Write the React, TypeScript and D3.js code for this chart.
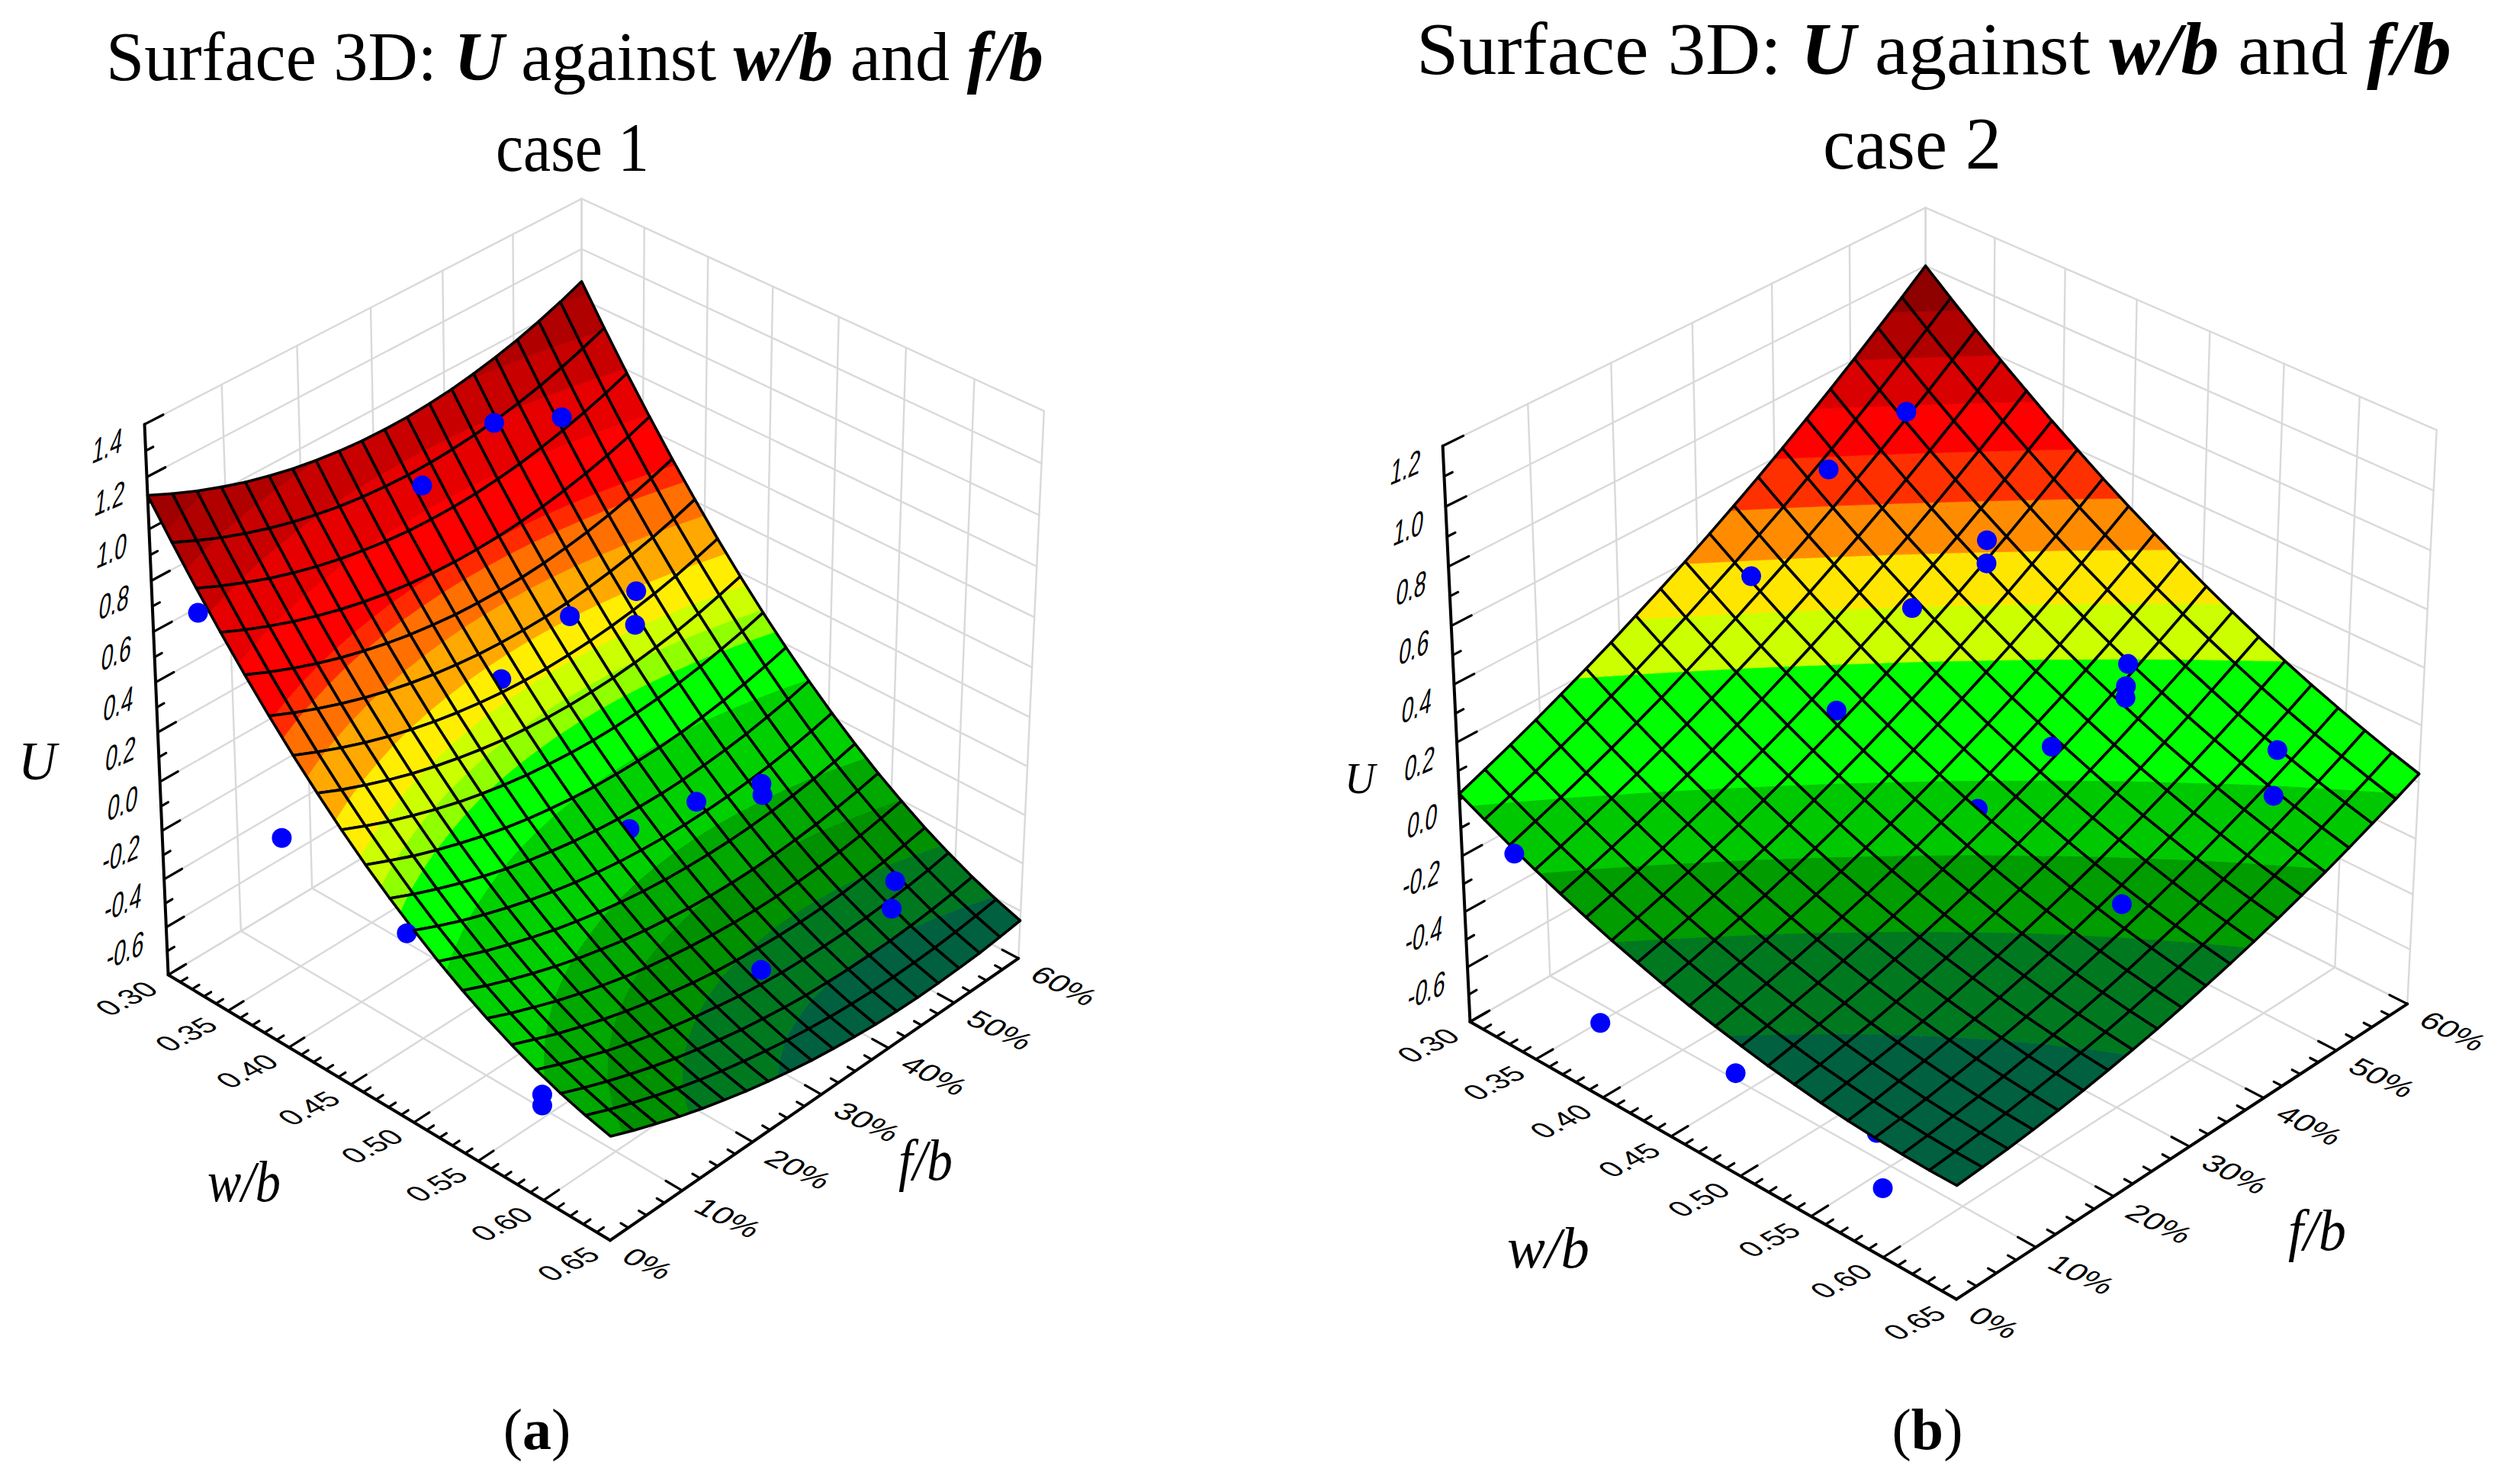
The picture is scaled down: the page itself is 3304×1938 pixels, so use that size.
import React, { useEffect, useRef } from 'react';
import * as d3 from 'd3';

const wTicks = [0.3, 0.35, 0.4, 0.45, 0.5, 0.55, 0.6, 0.65];
const fTicks = [0, 10, 20, 30, 40, 50, 60];
const uTicksA = [1.4, 1.2, 1.0, 0.8, 0.6, 0.4, 0.2, 0.0, -0.2, -0.4, -0.6, -0.8];
const uTicksB = [1.2, 1.0, 0.8, 0.6, 0.4, 0.2, 0.0, -0.2, -0.4, -0.6, -0.8];

// U on the mesh nodes. Rows go from w/b 0.30 to 0.65,
// columns from f/b 0% to 60%, 19 mesh cells each way.
const surfaceA = [
  [1.130, 1.087, 1.048, 1.014, 0.984, 0.959, 0.938, 0.922, 0.910, 0.902, 0.899, 0.900, 0.906, 0.916, 0.931, 0.950, 0.973, 1.001, 1.033, 1.070],
  [0.996, 0.953, 0.914, 0.880, 0.850, 0.825, 0.804, 0.787, 0.775, 0.767, 0.763, 0.764, 0.769, 0.778, 0.792, 0.810, 0.832, 0.859, 0.890, 0.925],
  [0.867, 0.825, 0.787, 0.752, 0.723, 0.697, 0.676, 0.659, 0.646, 0.637, 0.633, 0.633, 0.637, 0.646, 0.659, 0.676, 0.697, 0.723, 0.752, 0.786],
  [0.745, 0.703, 0.665, 0.631, 0.601, 0.575, 0.554, 0.536, 0.523, 0.514, 0.509, 0.509, 0.512, 0.520, 0.532, 0.548, 0.568, 0.592, 0.621, 0.654],
  [0.629, 0.587, 0.549, 0.515, 0.485, 0.460, 0.438, 0.420, 0.407, 0.397, 0.392, 0.391, 0.393, 0.400, 0.411, 0.426, 0.445, 0.469, 0.496, 0.527],
  [0.519, 0.477, 0.440, 0.406, 0.376, 0.350, 0.328, 0.310, 0.296, 0.286, 0.280, 0.278, 0.280, 0.286, 0.297, 0.311, 0.329, 0.351, 0.377, 0.407],
  [0.415, 0.374, 0.336, 0.302, 0.272, 0.246, 0.224, 0.206, 0.192, 0.181, 0.175, 0.172, 0.174, 0.179, 0.188, 0.201, 0.218, 0.239, 0.264, 0.292],
  [0.318, 0.276, 0.239, 0.205, 0.175, 0.149, 0.127, 0.108, 0.093, 0.083, 0.075, 0.072, 0.073, 0.077, 0.086, 0.098, 0.113, 0.133, 0.157, 0.184],
  [0.226, 0.185, 0.147, 0.114, 0.084, 0.057, 0.035, 0.016, 0.001, -0.010, -0.018, -0.022, -0.022, -0.018, -0.011, 0.000, 0.015, 0.034, 0.056, 0.082],
  [0.140, 0.100, 0.062, 0.029, -0.001, -0.028, -0.051, -0.070, -0.085, -0.097, -0.105, -0.109, -0.110, -0.108, -0.101, -0.091, -0.077, -0.060, -0.039, -0.014],
  [0.061, 0.020, -0.017, -0.050, -0.080, -0.107, -0.130, -0.149, -0.165, -0.177, -0.186, -0.191, -0.193, -0.191, -0.185, -0.176, -0.164, -0.147, -0.128, -0.104],
  [-0.012, -0.053, -0.090, -0.123, -0.153, -0.180, -0.203, -0.223, -0.239, -0.252, -0.261, -0.267, -0.269, -0.268, -0.263, -0.255, -0.244, -0.229, -0.210, -0.188],
  [-0.080, -0.120, -0.157, -0.190, -0.220, -0.247, -0.270, -0.290, -0.307, -0.320, -0.330, -0.336, -0.339, -0.339, -0.335, -0.328, -0.318, -0.304, -0.287, -0.266],
  [-0.141, -0.181, -0.218, -0.251, -0.281, -0.308, -0.331, -0.352, -0.369, -0.382, -0.393, -0.400, -0.404, -0.404, -0.401, -0.395, -0.386, -0.373, -0.357, -0.338],
  [-0.196, -0.236, -0.272, -0.306, -0.336, -0.363, -0.387, -0.407, -0.424, -0.438, -0.449, -0.457, -0.462, -0.463, -0.461, -0.456, -0.448, -0.436, -0.421, -0.403],
  [-0.245, -0.284, -0.321, -0.354, -0.384, -0.411, -0.435, -0.456, -0.474, -0.489, -0.500, -0.508, -0.514, -0.516, -0.515, -0.511, -0.503, -0.493, -0.479, -0.463],
  [-0.288, -0.327, -0.363, -0.397, -0.427, -0.454, -0.478, -0.499, -0.517, -0.533, -0.545, -0.554, -0.559, -0.562, -0.562, -0.559, -0.553, -0.544, -0.532, -0.516],
  [-0.325, -0.364, -0.400, -0.433, -0.463, -0.491, -0.515, -0.536, -0.555, -0.570, -0.583, -0.593, -0.599, -0.603, -0.604, -0.602, -0.597, -0.589, -0.578, -0.564],
  [-0.355, -0.394, -0.430, -0.463, -0.494, -0.521, -0.546, -0.567, -0.586, -0.602, -0.615, -0.626, -0.633, -0.638, -0.639, -0.638, -0.634, -0.627, -0.617, -0.605],
  [-0.380, -0.419, -0.454, -0.488, -0.518, -0.545, -0.570, -0.592, -0.611, -0.628, -0.641, -0.652, -0.661, -0.666, -0.669, -0.668, -0.665, -0.660, -0.651, -0.640],
];
const surfaceB = [
  [0.020, 0.056, 0.093, 0.132, 0.173, 0.216, 0.260, 0.307, 0.355, 0.404, 0.456, 0.509, 0.564, 0.621, 0.680, 0.740, 0.803, 0.867, 0.932, 1.000],
  [-0.024, 0.010, 0.046, 0.084, 0.123, 0.164, 0.207, 0.252, 0.298, 0.347, 0.397, 0.449, 0.502, 0.558, 0.615, 0.674, 0.734, 0.797, 0.861, 0.927],
  [-0.066, -0.033, 0.001, 0.037, 0.075, 0.115, 0.156, 0.200, 0.245, 0.291, 0.340, 0.390, 0.442, 0.496, 0.552, 0.609, 0.668, 0.729, 0.792, 0.856],
  [-0.105, -0.074, -0.041, -0.006, 0.030, 0.068, 0.108, 0.150, 0.193, 0.238, 0.285, 0.334, 0.385, 0.437, 0.491, 0.547, 0.605, 0.664, 0.725, 0.788],
  [-0.142, -0.112, -0.081, -0.048, -0.013, 0.024, 0.062, 0.102, 0.144, 0.188, 0.234, 0.281, 0.330, 0.381, 0.433, 0.488, 0.544, 0.602, 0.661, 0.723],
  [-0.176, -0.148, -0.118, -0.087, -0.053, -0.018, 0.019, 0.057, 0.098, 0.140, 0.184, 0.230, 0.277, 0.327, 0.378, 0.430, 0.485, 0.541, 0.600, 0.659],
  [-0.208, -0.181, -0.153, -0.123, -0.091, -0.058, -0.022, 0.015, 0.054, 0.094, 0.137, 0.181, 0.227, 0.275, 0.324, 0.376, 0.429, 0.484, 0.540, 0.599],
  [-0.237, -0.212, -0.185, -0.157, -0.127, -0.095, -0.061, -0.025, 0.012, 0.051, 0.092, 0.135, 0.179, 0.226, 0.274, 0.323, 0.375, 0.428, 0.483, 0.540],
  [-0.264, -0.241, -0.215, -0.188, -0.160, -0.129, -0.097, -0.063, -0.027, 0.011, 0.050, 0.091, 0.134, 0.179, 0.225, 0.274, 0.324, 0.375, 0.429, 0.484],
  [-0.289, -0.267, -0.243, -0.218, -0.190, -0.161, -0.131, -0.098, -0.064, -0.028, 0.010, 0.050, 0.091, 0.134, 0.179, 0.226, 0.275, 0.325, 0.377, 0.431],
  [-0.311, -0.290, -0.268, -0.244, -0.219, -0.191, -0.162, -0.131, -0.098, -0.063, -0.027, 0.011, 0.051, 0.093, 0.136, 0.181, 0.228, 0.277, 0.327, 0.380],
  [-0.330, -0.312, -0.291, -0.269, -0.244, -0.218, -0.191, -0.161, -0.130, -0.097, -0.062, -0.025, 0.013, 0.053, 0.095, 0.139, 0.184, 0.231, 0.280, 0.331],
  [-0.348, -0.330, -0.311, -0.290, -0.268, -0.243, -0.217, -0.189, -0.159, -0.128, -0.094, -0.059, -0.023, 0.016, 0.056, 0.099, 0.143, 0.188, 0.236, 0.285],
  [-0.362, -0.347, -0.329, -0.310, -0.289, -0.266, -0.241, -0.214, -0.186, -0.156, -0.124, -0.091, -0.056, -0.019, 0.020, 0.061, 0.103, 0.148, 0.194, 0.241],
  [-0.375, -0.360, -0.344, -0.327, -0.307, -0.286, -0.262, -0.238, -0.211, -0.182, -0.152, -0.120, -0.086, -0.051, -0.013, 0.026, 0.067, 0.109, 0.154, 0.200],
  [-0.385, -0.372, -0.357, -0.341, -0.323, -0.303, -0.281, -0.258, -0.233, -0.206, -0.177, -0.147, -0.114, -0.080, -0.045, -0.007, 0.032, 0.073, 0.116, 0.161],
  [-0.392, -0.381, -0.368, -0.353, -0.337, -0.318, -0.298, -0.276, -0.253, -0.227, -0.200, -0.171, -0.140, -0.108, -0.073, -0.037, 0.000, 0.040, 0.081, 0.125],
  [-0.397, -0.388, -0.376, -0.363, -0.348, -0.331, -0.312, -0.292, -0.270, -0.246, -0.220, -0.193, -0.164, -0.133, -0.100, -0.065, -0.029, 0.009, 0.049, 0.091],
  [-0.400, -0.392, -0.382, -0.370, -0.356, -0.341, -0.324, -0.305, -0.285, -0.262, -0.238, -0.212, -0.184, -0.155, -0.124, -0.091, -0.056, -0.019, 0.019, 0.059],
  [-0.400, -0.393, -0.385, -0.375, -0.363, -0.349, -0.333, -0.316, -0.297, -0.276, -0.253, -0.229, -0.203, -0.175, -0.145, -0.114, -0.080, -0.045, -0.009, 0.030],
];

const levelsA = [-0.6, -0.5, -0.4, -0.3, -0.1, 0.03, 0.09, 0.16, 0.25, 0.36, 0.46, 0.51, 0.66, 0.8, 0.92, 1.03];
const coloursA = ['#006040', '#007820', '#009000', '#00a800', '#00d000', '#00ff00', '#90ff00', '#ccff00', '#ffee00', '#ffa800', '#ff7000', '#ff2a00', '#ff0000', '#e60000', '#c80000', '#b00000', '#a00000'];
const levelsB = [-0.32, -0.21, -0.11, 0, 0.2, 0.3, 0.4, 0.5, 0.6, 0.7, 0.8, 0.9];
const coloursB = ['#006040', '#007820', '#009c00', '#00c800', '#00ff00', '#ccff00', '#ffe600', '#ff8c00', '#ff3000', '#ff0000', '#d80000', '#b00000', '#8f0000'];

// [w, f %, U]
const pointsA = [
  [0.3375, 0, 0.774], [0.328, 31.9, 0.741], [0.321, 43.4, 0.797], [0.335, 50.7, 0.743], [0.4085, 48.2, 0.261],
  [0.419, 46.1, 0.185], [0.398, 40.4, 0.258], [0.405, 29.3, 0.205], [0.3994, 0, 0.056], [0.497, 0, -0.04],
  [0.49, 32.2, -0.221], [0.5, 40.1, -0.22], [0.51, 47.9, -0.254], [0.517, 46.7, -0.26], [0.59, 52.7, -0.517],
  [0.601, 50, -0.551], [0.588, 33, -0.53], [0.5993, 0, -0.373], [0.5993, 0, -0.417],
];
const pointsB = [
  [0.342, 49.8, 0.72], [0.332, 41.4, 0.614], [0.409, 48.2, 0.446], [0.419, 46.3, 0.416], [0.335, 30.8, 0.4],
  [0.405, 39.1, 0.332], [0.503, 49.4, 0.217], [0.51, 47.8, 0.18], [0.52, 45.8, 0.194], [0.402, 29.8, 0.104],
  [0.5, 39.9, 0.064], [0.598, 51, 0.124], [0.608, 48.6, 0.026], [0.489, 32.3, -0.064], [0.34, 0, -0.088],
  [0.587, 32.7, -0.153], [0.4, 0, -0.53], [0.498, 0, -0.438], [0.586, 1.8, -0.432], [0.6, 0, -0.554],
];

type P2 = [number, number];
// box corners on screen, used to fit the camera
interface Frame { L: P2; F: P2; R: P2; B: P2; LT: P2; RT: P2; BT: P2 }
const frameA: Frame = { L: [221, 1278], F: [799, 1627], R: [1336, 1255], B: [762, 953], LT: [190, 556], RT: [1369, 540], BT: [762, 260] };
const frameB: Frame = { L: [1928, 1340], F: [2564, 1704], R: [3157, 1315], B: [2524, 998], LT: [1892, 584], RT: [3195, 565], BT: [2524, 272] };

function fitCamera(fr: Frame) {
  const pts: [number, number, number, P2][] = [
    [0, 0, 0, fr.L], [1, 0, 0, fr.F], [1, 1, 0, fr.R], [0, 1, 0, fr.B], [0, 0, 1, fr.LT], [1, 1, 1, fr.RT], [0, 1, 1, fr.BT],
  ];
  const rows: number[][] = [];
  const rhs: number[] = [];
  pts.forEach(([u, v, t, p]) => {
    const x = p[0] / 1000, y = p[1] / 1000;
    rows.push([u, v, t, 1, 0, 0, 0, 0, -x * u, -x * v, -x * t]); rhs.push(x);
    rows.push([0, 0, 0, 0, u, v, t, 1, -y * u, -y * v, -y * t]); rhs.push(y);
  });
  const n = 11;
  const A = d3.range(n).map(i => d3.range(n + 1).map(j =>
    j < n ? d3.sum(rows, r => r[i] * r[j]) : d3.sum(rows, (r, k) => r[i] * rhs[k])));
  for (let c = 0; c < n; c++) {
    let best = c;
    for (let r = c + 1; r < n; r++) if (Math.abs(A[r][c]) > Math.abs(A[best][c])) best = r;
    [A[c], A[best]] = [A[best], A[c]];
    for (let r = 0; r < n; r++) {
      if (r === c) continue;
      const m = A[r][c] / A[c][c];
      for (let k = c; k <= n; k++) A[r][k] -= m * A[c][k];
    }
  }
  const p = A.map((row, i) => row[n] / row[i]);
  return (u: number, v: number, t: number): P2 => {
    const d = p[8] * u + p[9] * v + p[10] * t + 1;
    return [1000 * (p[0] * u + p[1] * v + p[2] * t + p[3]) / d, 1000 * (p[4] * u + p[5] * v + p[6] * t + p[7]) / d];
  };
}

// clip a polygon to val >= lo (sign 1) or val <= hi (sign -1)
type V = { u: number; v: number; val: number };
function clip(poly: V[], level: number, sign: number) {
  const out: V[] = [];
  poly.forEach((a, i) => {
    const b = poly[(i + 1) % poly.length];
    const da = sign * (a.val - level), db = sign * (b.val - level);
    if (da >= 0) out.push(a);
    if ((da >= 0) !== (db >= 0)) {
      const k = da / (da - db);
      out.push({ u: a.u + (b.u - a.u) * k, v: a.v + (b.v - a.v) * k, val: level });
    }
  });
  return out;
}

interface PanelProps {
  frame: Frame; table: number[][]; levels: number[]; colours: string[];
  points: number[][]; uTicks: number[]; uMin: number; uMax: number;
}

function drawPanel(svg: d3.Selection<SVGSVGElement, unknown, null, undefined>, o: PanelProps) {
  const project = fitCamera(o.frame);
  const wS = d3.scaleLinear().domain([0.3, 0.65]).range([0, 1]);
  const fS = d3.scaleLinear().domain([0, 60]).range([0, 1]);
  const uS = d3.scaleLinear().domain([o.uMin, o.uMax]).range([0, 1]);
  const line = d3.line<P2>();
  const g = svg.append('g');

  const seg = (a: [number, number, number], b: [number, number, number], stroke: string, w: number) => {
    g.append('path').attr('d', line([project(...a), project(...b)])).attr('stroke', stroke).attr('stroke-width', w).attr('fill', 'none').attr('stroke-linecap', 'round');
  };

  // walls and floor
  const grid = '#d9d9d9';
  fTicks.forEach(f => {
    seg([0, fS(f), 0], [0, fS(f), 1], grid, 2.4);
    seg([0, fS(f), 0], [1, fS(f), 0], grid, 2.4);
  });
  wTicks.forEach(w => {
    seg([wS(w), 1, 0], [wS(w), 1, 1], grid, 2.4);
    seg([wS(w), 0, 0], [wS(w), 1, 0], grid, 2.4);
  });
  o.uTicks.forEach(u => {
    seg([0, 0, uS(u)], [0, 1, uS(u)], grid, 2.4);
    seg([0, 1, uS(u)], [1, 1, uS(u)], grid, 2.4);
  });

  // axes
  seg([0, 0, 0], [0, 0, 1], '#000', 4);
  seg([0, 0, 0], [1, 0, 0], '#000', 4);
  seg([1, 0, 0], [1, 1, 0], '#000', 4);
  d3.range(0, 36).forEach(i => {
    const major = i % 5 === 0;
    seg([i / 35, 0, 0], [i / 35, major ? 0.035 : 0.016, 0], '#000', 3.2);
  });
  d3.range(0, 25).forEach(i => {
    const major = i % 4 === 0;
    seg([1, i / 24, 0], [major ? 0.965 : 0.984, i / 24, 0], '#000', 3.2);
  });
  const uN = Math.round((o.uMax - o.uMin) / 0.1);
  d3.range(0, uN + 1).forEach(i => {
    const major = i % 2 === 0;
    seg([0, 0, i / uN], [0, major ? 0.04 : 0.016, i / uN], '#000', 3.2);
  });

  // surface cells and points, back to front
  const items: { key: number; draw: () => void }[] = [];
  const n = o.table.length - 1;
  const cellLayer = g.append('g');
  const bilerp = (a: number, b: number) => {
    const i = Math.min(n - 1, Math.floor(a * n)), j = Math.min(n - 1, Math.floor(b * n));
    const s = a * n - i, q = b * n - j;
    return (1 - s) * ((1 - q) * o.table[i][j] + q * o.table[i][j + 1]) + s * ((1 - q) * o.table[i + 1][j] + q * o.table[i + 1][j + 1]);
  };
  d3.range(n).forEach(i => d3.range(n).forEach(j => {
    const quad: V[] = [[i, j], [i + 1, j], [i + 1, j + 1], [i, j + 1]].map(([a, b]) => ({ u: a / n, v: b / n, val: o.table[a][b] }));
    items.push({
      key: (i + 0.5 - j - 0.5) / n,
      draw: () => {
        o.colours.forEach((c, k) => {
          let poly = quad;
          if (k > 0) poly = clip(poly, o.levels[k - 1], 1);
          if (k < o.levels.length && poly.length) poly = clip(poly, o.levels[k], -1);
          if (poly.length < 3) return;
          const pts = poly.map(p => project(p.u, p.v, uS(p.val)));
          cellLayer.append('path').attr('d', line(pts) + 'Z').attr('fill', c).attr('stroke', c).attr('stroke-width', 0.8);
        });
        const pts = quad.map(p => project(p.u, p.v, uS(p.val)));
        cellLayer.append('path').attr('d', line(pts) + 'Z').attr('fill', 'none').attr('stroke', '#000').attr('stroke-width', 3.6).attr('stroke-linejoin', 'round');
      },
    });
  }));
  const dot = (p: P2) => cellLayer.append('circle').attr('cx', p[0]).attr('cy', p[1]).attr('r', 13).attr('fill', '#0000ff');
  const onTop: P2[] = [];
  o.points.forEach(([w, f, u]) => {
    const a = wS(w), b = fS(f), pos = project(a, b, uS(u));
    if (u >= bilerp(a, b)) onTop.push(pos);
    else items.push({ key: a - b, draw: () => dot(pos) });
  });
  items.sort((x, y) => x.key - y.key).forEach(it => it.draw());
  onTop.forEach(dot);

  // tick labels
  const sans = 'Liberation Sans, Arial, sans-serif';
  wTicks.forEach(w => {
    const [x, y] = project(wS(w), 0, 0);
    g.append('text').text(w.toFixed(2)).attr('text-anchor', 'middle').attr('dominant-baseline', 'central').attr('font-family', sans).attr('font-size', 34)
      .attr('transform', `matrix(1,-0.5,0.95,0.62,${x - 55},${y + 31})`);
  });
  fTicks.forEach(f => {
    const [x, y] = project(1, fS(f), 0);
    g.append('text').text(`${f}%`).attr('dominant-baseline', 'central').attr('font-family', sans).attr('font-size', 34)
      .attr('transform', `matrix(1.12,0.55,-0.8,0.75,${x + 22},${y + 17})`);
  });
  o.uTicks.slice(0, -1).forEach(u => {
    const [x, y] = project(0, 0, uS(u));
    g.append('text').text(u.toFixed(1)).attr('text-anchor', 'end').attr('dominant-baseline', 'central').attr('font-family', sans).attr('font-size', 32)
      .attr('transform', `matrix(0.88,-0.38,-0.17,1.45,${x - 29},${y + 19})`);
  });
}

const serif = 'Liberation Serif, Times New Roman, serif';

interface TitleProps { x: number; y: number; w: number; size: number }
const Title = ({ x, y, w, size }: TitleProps) => (
  <text x={x} y={y} fontFamily={serif} fontSize={size} textLength={w} lengthAdjust="spacingAndGlyphs">
    Surface 3D: <tspan fontWeight="bold" fontStyle="italic">U</tspan> against{' '}
    <tspan fontWeight="bold" fontStyle="italic">w/b</tspan> and{' '}
    <tspan fontWeight="bold" fontStyle="italic">f/b</tspan>
  </text>
);

const Ital = ({ x, y, size, w, children }: { x: number; y: number; size: number; w: number; children: string }) => (
  <text x={x} y={y} fontFamily={serif} fontStyle="italic" fontSize={size} textLength={w} lengthAdjust="spacingAndGlyphs">{children}</text>
);

export default function App() {
  const ref = useRef<SVGSVGElement>(null);
  useEffect(() => {
    if (!ref.current) return;
    const svg = d3.select(ref.current);
    svg.selectAll('g').remove();
    drawPanel(svg, { frame: frameA, table: surfaceA, levels: levelsA, colours: coloursA, points: pointsA, uTicks: uTicksA, uMin: -0.8, uMax: 1.4 });
    drawPanel(svg, { frame: frameB, table: surfaceB, levels: levelsB, colours: coloursB, points: pointsB, uTicks: uTicksB, uMin: -0.8, uMax: 1.2 });
  }, []);
  return (
    <svg ref={ref} width={3304} height={1938} style={{ position: 'absolute', left: 0, top: 0, background: '#fff' }}>
      <Title x={139} y={105} w={1229} size={90} />
      <text x={650} y={224} fontFamily={serif} fontSize={90} textLength={201} lengthAdjust="spacingAndGlyphs">case 1</text>
      <Title x={1857} y={97} w={1357} size={98} />
      <text x={2390} y={221} fontFamily={serif} fontSize={98} textLength={234} lengthAdjust="spacingAndGlyphs">case 2</text>
      <Ital x={24} y={1022} size={72} w={50}>U</Ital>
      <Ital x={272} y={1575} size={76} w={96}>w/b</Ital>
      <Ital x={1178} y={1547} size={76} w={71}>f/b</Ital>
      <Ital x={1763} y={1040} size={58} w={40}>U</Ital>
      <Ital x={1976} y={1662} size={76} w={108}>w/b</Ital>
      <Ital x={3000} y={1639} size={76} w={76}>f/b</Ital>
      <text x={704} y={1900} textAnchor="middle" fontFamily={serif} fontSize={76}>(<tspan fontWeight="bold">a</tspan>)</text>
      <text x={2527} y={1900} textAnchor="middle" fontFamily={serif} fontSize={76}>(<tspan fontWeight="bold">b</tspan>)</text>
    </svg>
  );
}
